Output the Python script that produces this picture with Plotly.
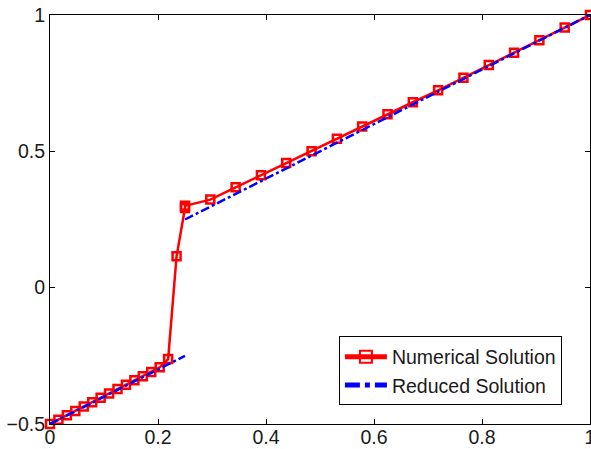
import plotly.graph_objects as go

# Numerical solution: fine mesh on [0, 0.25] (h = 1/64), coarse mesh on [0.25, 1] (h = 3/64)
x_left = [k / 64 for k in range(17)]
y_left = [-0.5, -0.484, -0.468, -0.452, -0.436, -0.420, -0.404, -0.388, -0.372,
          -0.356, -0.340, -0.325, -0.309, -0.292, -0.262, 0.115, 0.292]
x_right = [0.25 + 3 * k / 64 for k in range(17)]
y_right = [0.300, 0.323, 0.368, 0.412, 0.457, 0.500, 0.546, 0.591, 0.636,
           0.680, 0.724, 0.770, 0.817, 0.862, 0.907, 0.954, 1.0]

num_x = x_left + x_right
num_y = y_left + y_right

# Reduced solution: two linear pieces
red_x = [0.0, 0.25, None, 0.25, 1.0]
red_y = [-0.5, -0.25, None, 0.25, 1.0]

x_ticks = [0, 0.2, 0.4, 0.6, 0.8, 1]
y_ticks = [-0.5, 0, 0.5, 1]

FONT = "Liberation Sans, Arial, sans-serif"

fig = go.Figure()
fig.add_trace(go.Scatter(
    x=num_x, y=num_y, mode="lines+markers", name="Numerical Solution",
    line=dict(color="#ff0000", width=2.5),
    marker=dict(symbol="square-open", size=8, color="#ff0000", line=dict(width=2.5, color="#ff0000")),
    cliponaxis=False,
))
fig.add_trace(go.Scatter(
    x=red_x, y=red_y, mode="lines", name="Reduced Solution",
    line=dict(color="#0000ff", width=2.5, dash="dashdot"),
    connectgaps=False, cliponaxis=False,
))

axis_common = dict(
    showline=True, linecolor="black", linewidth=1, mirror="ticks",
    ticks="inside", ticklen=5, tickcolor="black", tickwidth=1,
    showgrid=False, zeroline=False, ticklabeloverflow="allow", automargin=False,
    tickfont=dict(family=FONT, size=19.5, color="#1a1a1a"),
)
fig.update_xaxes(range=[0, 1], tickvals=x_ticks, ticktext=[f"{v:g}" for v in x_ticks],
                 ticklabelstandoff=-4, **axis_common)
fig.update_yaxes(range=[-0.5, 1], tickvals=y_ticks,
                 ticktext=[("\u2212" + f"{abs(v):g}") if v < 0 else f"{v:g}" for v in y_ticks],
                 **axis_common)

fig.update_layout(
    width=591, height=449,
    margin=dict(l=50, r=1, t=15, b=25, autoexpand=False),
    paper_bgcolor="white", plot_bgcolor="white",
    font=dict(family=FONT, size=19.5, color="#1a1a1a"),
    legend=dict(
        x=0.948, y=0.1296, xanchor="right", yanchor="middle",
        bgcolor="white", bordercolor="black", borderwidth=1,
        font=dict(size=19.5), tracegroupgap=0, itemsizing="constant", itemwidth=42,
    ),
    showlegend=True,
)

fig.write_html("out.html")
